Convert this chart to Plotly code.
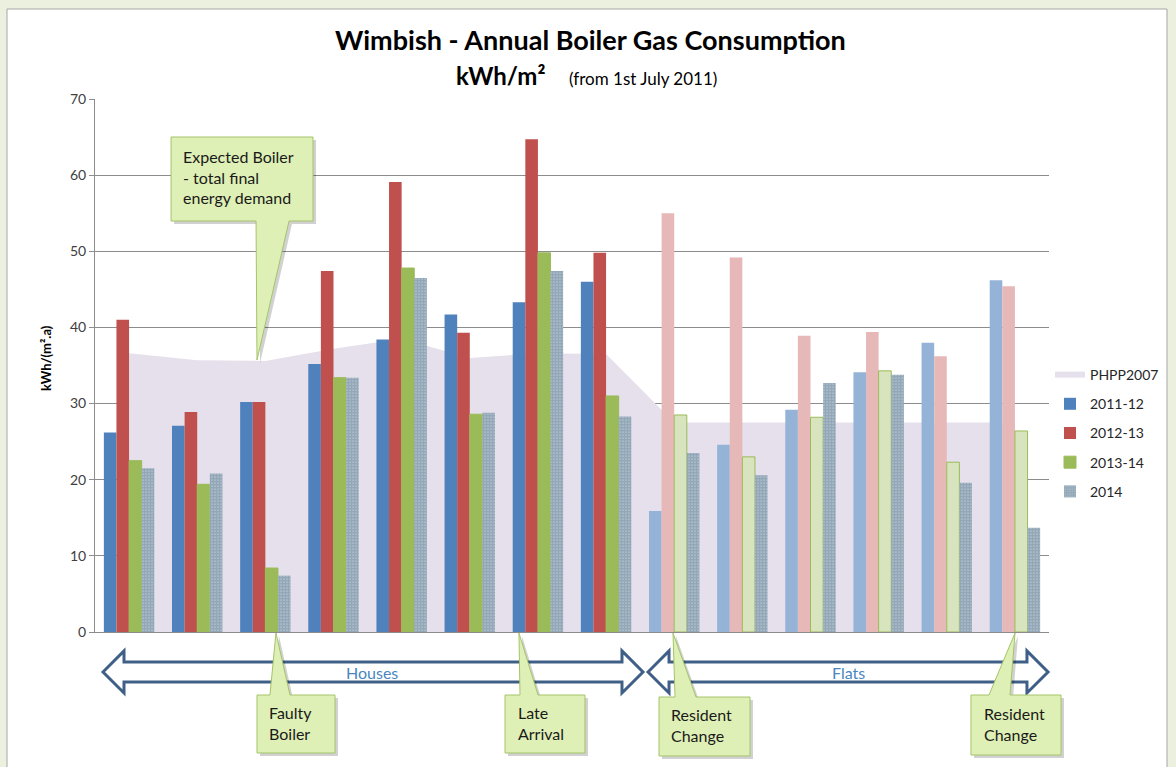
import plotly.graph_objects as go

# ---- data ----
sites = ["H1", "H2", "H3", "H4", "H5", "H6", "H7", "H8",
         "F1", "F2", "F3", "F4", "F5", "F6"]
n_houses = 8

phpp2007 = [36.6, 35.7, 35.6, 37.2, 38.5, 36.0, 36.6, 36.5,
            27.5, 27.5, 27.5, 27.5, 27.5, 27.5]
y2011_12 = [26.2, 27.1, 30.2, 35.2, 38.4, 41.7, 43.3, 46.0,
            15.9, 24.6, 29.2, 34.1, 38.0, 46.2]
y2012_13 = [41.0, 28.9, 30.2, 47.4, 59.1, 39.3, 64.7, 49.8,
            55.0, 49.2, 38.9, 39.4, 36.2, 45.4]
y2013_14 = [22.5, 19.4, 8.4, 33.4, 47.8, 28.6, 49.8, 31.0,
            28.5, 23.0, 28.2, 34.3, 22.3, 26.4]
y2014 = [21.5, 20.8, 7.4, 33.4, 46.5, 28.8, 47.4, 28.3,
         23.5, 20.6, 32.7, 33.8, 19.6, 13.7]

FONT = "Lato"
W, H = 1176, 767
ML, MR, MT, MB = 95, 127, 99, 135
PW, PH = W - ML - MR, H - MT - MB


def px(x):
    return (x - ML) / PW


def py(y):
    return (H - MB - y) / PH


def path(points):
    return "M " + " L ".join(f"{px(x):.4f},{py(y):.4f}" for x, y in points) + " Z"


def split_colors(house, flat):
    return [house if i < n_houses else flat for i in range(len(sites))]


fig = go.Figure()

# PHPP area sits on the main axes, bars on an overlay so they draw on top
fig.add_trace(go.Scatter(
    x=sites, y=phpp2007, name="PHPP2007", mode="none", fill="tozeroy",
    fillcolor="#e5e0ec", legendgroup="a", xaxis="x", yaxis="y"))

fig.add_trace(go.Bar(
    x=sites, y=y2011_12, name="2011-12", legendgroup="b",
    marker=dict(color=split_colors("#4f81bd", "#95b3d7"), line=dict(width=0)),
    xaxis="x2", yaxis="y2"))
fig.add_trace(go.Bar(
    x=sites, y=y2012_13, name="2012-13", legendgroup="c",
    marker=dict(color=split_colors("#c0504d", "#e6b9b8"), line=dict(width=0)),
    xaxis="x2", yaxis="y2"))
fig.add_trace(go.Bar(
    x=sites, y=y2013_14, name="2013-14", legendgroup="d",
    marker=dict(color=split_colors("#9bbb59", "#d7e4bd"),
                line=dict(color="#9bbb59", width=1)),
    xaxis="x2", yaxis="y2"))
fig.add_trace(go.Bar(
    x=sites, y=y2014, name="2014", legendgroup="e",
    marker=dict(color="#ffffff", line=dict(width=0),
                pattern=dict(shape=".", size=3, solidity=0.85,
                             fgcolor="#254f70", bgcolor="#ffffff")),
    xaxis="x2", yaxis="y2"))

# ---- decorations ----
callout_fill, callout_line = "#dff0b6", "#a4c46a"
arrow_line = "#3f5f87"

callouts = [
    [(171, 137), (313, 137), (313, 221), (289, 221), (257, 360), (256, 221), (171, 221)],
    [(257, 695), (270, 695), (276, 633), (290, 695), (335, 695), (335, 753), (257, 753)],
    [(505, 695), (520, 695), (519, 633), (538, 695), (585, 695), (585, 753), (505, 753)],
    [(659, 697), (675, 697), (673, 633), (696, 697), (750, 697), (750, 756), (659, 756)],
    [(971, 695), (989, 695), (1015, 633), (1010, 695), (1061, 695), (1061, 755), (971, 755)],
]


def double_arrow(x0, x1, head=21):
    yc, sh, hh = 672, 10, 21
    return [(x0, yc), (x0 + head, yc - hh), (x0 + head, yc - sh),
            (x1 - head, yc - sh), (x1 - head, yc - hh), (x1, yc),
            (x1 - head, yc + hh), (x1 - head, yc + sh),
            (x0 + head, yc + sh), (x0 + head, yc + hh)]


shapes = [dict(type="rect", xref="paper", yref="paper", layer="below",
               x0=px(7), x1=px(1167), y0=py(790), y1=py(9),
               fillcolor="white", line=dict(color="#a6a6a6", width=1))]
for a, b in [(103, 643), (648, 1048)]:
    shapes.append(dict(type="path", xref="paper", yref="paper", layer="above",
                       path=path(double_arrow(a, b)), fillcolor="white",
                       line=dict(color=arrow_line, width=3)))
for pts in callouts:
    shapes.append(dict(type="path", xref="paper", yref="paper", layer="above",
                       path=path([(x + 3, y + 3) for x, y in pts]),
                       fillcolor="rgba(0,0,0,0.18)", line=dict(width=0)))
    shapes.append(dict(type="path", xref="paper", yref="paper", layer="above",
                       path=path(pts), fillcolor=callout_fill,
                       line=dict(color=callout_line, width=1)))

annotations = []


def note(text, x, y, size=16, color="#1a1a1a", anchor="left", bold=False):
    annotations.append(dict(
        text=f"<b>{text}</b>" if bold else text, x=px(x), y=py(y),
        xref="paper", yref="paper", xanchor=anchor, yanchor="middle",
        showarrow=False, font=dict(family=FONT, size=size, color=color)))


note("Wimbish - Annual Boiler Gas Consumption", 590, 40, size=27,
     anchor="center", bold=True, color="#000000")
note("kWh/m²", 500, 75, size=24, anchor="center", bold=True,
     color="#000000")
note("(from 1st July 2011)", 567, 78, size=17, color="#000000")

for text, x, ys in [
    (["Expected Boiler", "- total final", "energy demand"], 181, [156, 177, 197]),
    (["Faulty", "Boiler"], 267, [712, 733]),
    (["Late", "Arrival"], 516, [712, 733]),
    (["Resident", "Change"], 669, [714, 735]),
    (["Resident", "Change"], 982, [713, 734]),
]:
    for line, y in zip(text, ys):
        note(line, x, y)

note("Houses", 372, 672, size=16, anchor="center", color="#4a86c0")
note("Flats", 848, 672, size=16, anchor="center", color="#4a86c0")

annotations.append(dict(
    text="<b>kWh/(m².a)</b>", x=px(46), y=py(358),
    xref="paper", yref="paper", xanchor="center", yanchor="middle",
    textangle=-90, showarrow=False,
    font=dict(family=FONT, size=13, color="#000000")))

grid = "#8c8c8c"
fig.update_layout(
    width=W, height=H,
    margin=dict(l=ML, r=MR, t=MT, b=MB, autoexpand=False),
    paper_bgcolor="#ebf1de", plot_bgcolor="rgba(0,0,0,0)",
    font=dict(family=FONT, size=13, color="#404040"),
    barmode="group", bargap=0.26, bargroupgap=0,
    xaxis=dict(type="category", range=[-0.5, 13.5], showticklabels=False,
               showgrid=False, zeroline=False, showline=True, linecolor=grid,
               ticks=""),
    yaxis=dict(range=[0, 70], dtick=10, showgrid=True, gridcolor=grid,
               gridwidth=1, zeroline=False, showline=True, linecolor=grid,
               ticks="outside", ticklen=5, tickcolor=grid,
               tickfont=dict(family=FONT, size=14, color="#404040")),
    xaxis2=dict(type="category", range=[-0.5, 13.5], overlaying="x",
                visible=False),
    yaxis2=dict(range=[0, 70], overlaying="y", visible=False),
    legend=dict(x=px(1050), y=py(433), xanchor="left", yanchor="middle",
                traceorder="grouped", tracegroupgap=8,
                bgcolor="rgba(0,0,0,0)",
                font=dict(family=FONT, size=14, color="#262626")),
    shapes=shapes, annotations=annotations,
)

# the page's default body margin would push the 1176x767 figure out of view
fig.write_html("out.html", config={"displayModeBar": False},
               post_script="document.body.style.margin='0';"
                           "document.body.style.overflow='hidden';")
